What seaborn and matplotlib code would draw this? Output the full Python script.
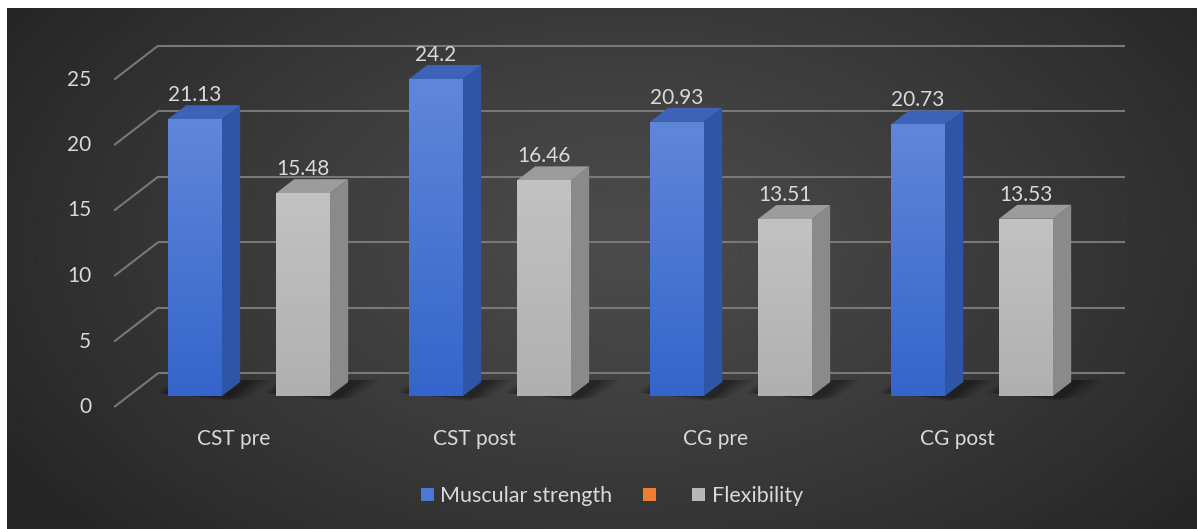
import numpy as np
import pandas as pd
import matplotlib
matplotlib.use("Agg")
import matplotlib.pyplot as plt
import seaborn as sns
from matplotlib.patches import Polygon, Patch

# ---- data ----
categories = ["CST pre", "CST post", "CG pre", "CG post"]
series_names = ["Muscular strength", "", "Flexibility"]
muscular_strength = [21.13, 24.2, 20.93, 20.73]
unnamed_series = [np.nan, np.nan, np.nan, np.nan]
flexibility = [15.48, 16.46, 13.51, 13.53]
y_ticks = [0, 5, 10, 15, 20, 25]

# ---- styling ----
front_colors = ["#4a78d4", "#ED7D31", "#b7b7b7"]
front_top = ["#5f87d9", "#f0904c", "#c2c2c2"]
front_bottom = ["#3565cc", "#e07020", "#b0b0b0"]
side_colors = ["#2f55a6", "#b85f22", "#8a8a8a"]
top_colors = ["#3c63b8", "#d06d2a", "#9c9c9c"]
text_color = "#d9d9d9"
grid_color = "#787878"

sns.set_theme(style="white")
plt.rcParams["font.family"] = ["Lato", "DejaVu Sans"]

W, H = 1197, 529
fig = plt.figure(figsize=(W / 100, H / 100), dpi=100, facecolor="white")

# dark radial background panel
bg = fig.add_axes([7 / W, 0, 1 - 7 / W, (H - 8) / H])
bg.set_axis_off()
gx = np.linspace(0, 1, 600)
gy = np.linspace(0, 1, 270)
GX, GY = np.meshgrid(gx, gy)
r = np.sqrt(((GX - 0.52) / 0.62) ** 2 + ((GY - 0.55) / 0.85) ** 2)
shade = np.clip(r, 0, 1)
lum = (0x4b + (0x25 - 0x4b) * shade ** 1.2) / 255.0
img = np.dstack([lum, lum, lum])
bg.imshow(img, aspect="auto", extent=[0, 1, 0, 1], origin="lower")
bg.set_xlim(0, 1)
bg.set_ylim(0, 1)

# main plotting plane (front faces of the bars)
ax_left, ax_right, ax_top, ax_bottom = 100, 1140, 20, 470
ax = fig.add_axes([ax_left / W, (H - ax_bottom) / H,
                   (ax_right - ax_left) / W, (ax_bottom - ax_top) / H])
ax.patch.set_alpha(0)

rows = []
for name, vals in zip(series_names, [muscular_strength, unnamed_series, flexibility]):
    for c, v in zip(categories, vals):
        rows.append({"category": c, "series": name, "value": v})
df = pd.DataFrame(rows)

sns.barplot(data=df, x="category", y="value", hue="series",
            order=categories, hue_order=series_names,
            palette=front_colors, width=0.672, gap=0, saturation=1,
            errorbar=None, legend=False, ax=ax, zorder=3, linewidth=0)

group_px = 241.0
first_center_px = 249.0
val_px = 13.1
baseline_px = 396.0
xlim = ((ax_left - first_center_px) / group_px, (ax_right - first_center_px) / group_px)
ylim = ((baseline_px - ax_bottom) / val_px, (baseline_px - ax_top) / val_px)
ax.set_xlim(*xlim)
ax.set_ylim(*ylim)
ax.set_axis_off()

sx = group_px
sy = val_px


def depth_offset(d):
    """Oblique depth offset in data units for a depth of d pixels."""
    return d * 1.3 / sx, d / sy


# back-wall gridlines and left-wall diagonals
bx, by = depth_offset(23)
fx, fy = depth_offset(-11)
x_wall = -0.5
x_end = len(categories) - 0.49
for v in y_ticks:
    ax.plot([x_wall + bx, x_end + bx], [v + by, v + by], color=grid_color,
            lw=1.5, zorder=1, solid_capstyle="butt")
    ax.plot([x_wall + bx, x_wall + fx], [v + by, v + fy], color=grid_color,
            lw=1.5, zorder=1, solid_capstyle="butt")
    ax.text(x_wall + fx - 23 / sx, v + fy, f"{v}", ha="right", va="center",
            color=text_color, fontsize=15, zorder=5)

# extrude each bar into a box
ox, oy = depth_offset(14)
front_rgb = [matplotlib.colors.to_rgb(c) for c in front_colors]
for p in list(ax.patches):
    h = p.get_height()
    if not np.isfinite(h) or h == 0:
        continue
    fc = p.get_facecolor()[:3]
    k = int(np.argmin([np.sum((np.array(fc) - np.array(c)) ** 2) for c in front_rgb]))
    x0, w = p.get_x(), p.get_width()
    x1 = x0 + w
    # soft floor shadow around the base
    for i, a in enumerate([0.08, 0.10, 0.12, 0.16]):
        grow = (4 - i) * 6
        shadow = Polygon([(x0 - (grow * 0.5) / sx, 0 + 3 / sy),
                          (x1 + grow / sx, 0 - (2 + i) / sy),
                          (x1 + ox + (grow + 8) / sx, oy + 2 / sy),
                          (x0 + ox - (grow * 0.6) / sx, oy + 2 / sy)],
                         closed=True, facecolor="black", edgecolor="none",
                         alpha=a, zorder=2)
        ax.add_patch(shadow)
    side = Polygon([(x1, 0), (x1, h), (x1 + ox, h + oy), (x1 + ox, oy)],
                   closed=True, facecolor=side_colors[k], edgecolor="none", zorder=3)
    top = Polygon([(x0, h), (x1, h), (x1 + ox, h + oy), (x0 + ox, h + oy)],
                  closed=True, facecolor=top_colors[k], edgecolor="none", zorder=3)
    ax.add_patch(side)
    ax.add_patch(top)
    # vertical shading on the front face, clipped to the bar
    c_top = np.array(matplotlib.colors.to_rgb(front_top[k]))
    c_bot = np.array(matplotlib.colors.to_rgb(front_bottom[k]))
    t = np.linspace(0, 1, 64)[:, None]
    grad = (c_bot[None, :] * (1 - t) + c_top[None, :] * t)[:, None, :]
    im = ax.imshow(grad, extent=[x0, x1, 0, h], origin="lower", aspect="auto",
                   zorder=3.2, interpolation="bilinear")
    im.set_clip_path(p)
    ax.text(x0 + w / 2, h + 24 / sy, f"{h:g}", ha="center", va="center",
            color=text_color, fontsize=15, zorder=5)

ax.set_xlim(*xlim)
ax.set_ylim(*ylim)

# category labels along the front edge
for i, c in enumerate(categories):
    ax.text(i - 15 / sx, -43 / sy, c, ha="center", va="center",
            color=text_color, fontsize=15, zorder=5)

handles = [Patch(facecolor=c, edgecolor="none") for c in front_colors]
fig.legend(handles, series_names, loc="center", bbox_to_anchor=(612 / W, 1 - 496 / H),
           ncol=3, frameon=False, handlelength=0.6, handleheight=0.6,
           handletextpad=0.3, columnspacing=1.4, fontsize=15.5, labelcolor=text_color)

fig.savefig("out.png", dpi=100)
